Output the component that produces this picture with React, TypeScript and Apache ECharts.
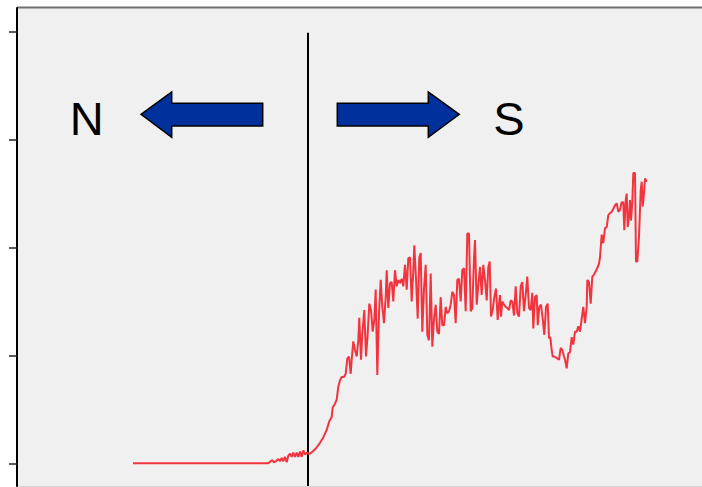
import React, { useEffect, useRef } from "react";
import * as echarts from "echarts";

// Position along transect (0 = boundary line) and measured values
const distance = [
  -175, -39.7, -37.3, -35.7, -34, -32, -29.7, -28, -26.3, -24.7, -23, -21.3, -19.7, -18, -16.3, -14.7,
  -13, -11.3, -9.7, -8, -6.3, -4.7, -3, -1.3, 0.3, 2, 4.7, 8, 12, 15.3, 18.7, 21.3, 23.7, 24.7, 26.3,
  28.7, 30.3, 32, 33.7, 36, 37.7, 39.3, 41, 42.7, 43.7, 45.3, 47, 48.7, 50.3, 51.3, 53, 54.3, 56.3, 58,
  59.7, 61.3, 63, 64.7, 66.3, 67.7, 69.3, 71, 72.7, 74.3, 76, 77.7, 78.7, 80.3, 82, 83.7, 85.3, 87,
  88.7, 90.3, 92, 93.7, 95.3, 97, 98.7, 100.3, 102, 103.7, 105.3, 106.3, 108, 109.7, 111.3, 112.7,
  114.3, 116, 117.7, 119.3, 121, 122.7, 124.3, 126, 127.7, 129.3, 131, 132.7, 134.3, 136, 137.7,
  139.3, 141, 142.7, 144.3, 146, 147.7, 149.3, 151, 152.7, 154.3, 156, 157.7, 159.3, 161, 162.7,
  164.3, 166, 167, 168.7, 170.3, 172, 173.7, 175.3, 177, 178.7, 180.3, 181.7, 183, 184.7, 186.3, 188,
  189.7, 191, 192, 193, 194.3, 196, 197.7, 199.3, 201, 202.7, 204.3, 206, 207.7, 209.3, 211, 212.7,
  214.3, 216, 217.7, 219.3, 221, 222.7, 224.3, 225.3, 227, 228.7, 229.7, 231.3, 233, 234.7, 236.3,
  238, 239.7, 241, 242.3, 243.7, 244.7, 246.3, 248, 249.7, 251, 252.7, 254.3, 256, 257, 258.7, 260.3,
  262, 263.7, 265.3, 267, 268.7, 270.3, 272, 273.7, 275.3, 277, 278.7, 279.3, 281, 282.7, 284.3, 286,
  287.7, 289.3, 291, 292, 293.7, 295.3, 297, 298.7, 300.3, 302, 303.7, 305.3, 307, 308.7, 310.3, 312,
  313.7, 315.3, 316.3, 317.7, 318.7, 319.7, 321, 322, 323, 324.3, 325.3, 327, 328, 329.3, 331, 332.7,
  333.7, 334.7, 336, 337, 338.7,
];
const value = [
  0, 0, 0.02, 0.03, 0.01, 0.02, 0.04, 0.02, 0.05, 0.02, 0.06, 0.01, 0.07, 0.09, 0.06, 0.1,
  0.06, 0.1, 0.06, 0.11, 0.06, 0.12, 0.08, 0.1, 0.09, 0.09, 0.11, 0.14, 0.19, 0.24, 0.31, 0.39, 0.43, 0.52, 0.54,
  0.59, 0.71, 0.77, 0.8, 0.8, 0.83, 0.97, 0.99, 0.83, 0.96, 1.13, 1.05, 0.99, 1.14, 1.35, 0.96, 1.2, 1.42, 0.99,
  1.2, 1.48, 1.42, 1.22, 1.33, 1.61, 0.82, 1.39, 1.7, 1.45, 1.3, 1.54, 1.79, 1.44, 1.67, 1.68, 1.5, 1.79,
  1.64, 1.7, 1.67, 1.71, 1.64, 1.84, 1.61, 1.9, 1.91, 1.5, 1.78, 2.02, 1.71, 1.34, 1.91, 1.95,
  1.22, 1.62, 1.84, 1.19, 1.14, 1.76, 1.08, 1.34, 1.47, 1.22, 1.2, 1.54, 1.28, 1.28, 1.45,
  1.39, 1.41, 1.47, 1.59, 1.56, 1.3, 1.7, 1.71, 1.5, 1.79, 1.81, 1.41, 2.13, 2.13, 1.41,
  1.44, 1.9, 2.07, 1.47, 1.65, 1.82, 1.56, 1.84, 1.7, 1.51, 1.82, 1.87, 1.36, 1.42, 1.54, 1.62,
  1.33, 1.48, 1.56, 1.36, 1.5, 1.47, 1.45, 1.44, 1.42, 1.51, 1.5, 1.37, 1.64, 1.39, 1.36, 1.64,
  1.68, 1.41, 1.56, 1.73, 1.44, 1.42, 1.58, 1.25, 1.54, 1.56, 1.28, 1.45, 1.47, 1.34, 1.19,
  1.45, 1.48, 1.16, 1.17, 1.05, 0.99, 0.99, 0.98, 0.97, 0.96, 1.07, 1.05, 0.99, 0.96, 0.88, 1.02,
  1.03, 1.17, 1.1, 1.22, 1.22, 1.27, 1.22, 1.34, 1.45, 1.3, 1.45, 1.7, 1.68, 1.48, 1.73, 1.75,
  1.78, 1.81, 1.85, 1.91, 2.12, 2.04, 2.18, 2.19, 2.3, 2.32, 2.33, 2.36, 2.39, 2.41, 2.33, 2.35,
  2.42, 2.42, 2.16, 2.44, 2.5, 2.19, 2.29, 2.44, 2.25, 2.42, 2.69, 2.69, 1.87, 1.87, 2.1, 2.53,
  2.61, 2.38, 2.5, 2.64, 2.61,
];

const yTicks = [0, 1, 2, 3, 4];
const boundary = { position: 0, top: 3.99 };
const labels = { north: "N", south: "S" };

export default function App() {
  const ref = useRef<HTMLDivElement>(null);
  useEffect(() => {
    if (!ref.current) return;
    const chart = echarts.init(ref.current, null, { renderer: "svg" });
    const yMin = -0.21;
    const yMax = 4.22;
    const lineData = distance.map((d, i) => [d, value[i]]);
    const arrowStyle = { fill: "#00309c", stroke: "#000", lineWidth: 1.5 };
    chart.setOption({
      animation: false,
      backgroundColor: "#ffffff",
      grid: {
        left: 17,
        right: 0,
        top: 8,
        bottom: 1,
        show: true,
        backgroundColor: "#f0f0f0",
        borderWidth: 0,
      },
      xAxis: {
        type: "value",
        min: -291,
        max: 394,
        show: false,
      },
      yAxis: {
        type: "value",
        min: yMin,
        max: yMax,
        axisLine: { show: true, onZero: false, lineStyle: { color: "#000", width: 2 } },
        axisTick: {
          show: true,
          length: 8,
          customValues: yTicks,
          lineStyle: { color: "#222", width: 1.5 },
        },
        axisLabel: { show: false },
        splitLine: { show: false },
      },
      graphic: [
        { type: "line", shape: { x1: 17, y1: 7.5, x2: 702, y2: 7.5 }, style: { stroke: "#707070", lineWidth: 2 } },
        { type: "line", shape: { x1: 17, y1: 486.5, x2: 702, y2: 486.5 }, style: { stroke: "#d4d4d4", lineWidth: 1 } },
        {
          type: "polygon",
          shape: {
            points: [
              [141, 114.3], [171.7, 92], [171.7, 103.3], [262.7, 103.3], [262.7, 126], [171.7, 126], [171.7, 137.3],
            ],
          },
          style: arrowStyle,
        },
        {
          type: "polygon",
          shape: {
            points: [
              [459.3, 114.3], [428.3, 92], [428.3, 103.3], [337.3, 103.3], [337.3, 126], [428.3, 126], [428.3, 137.3],
            ],
          },
          style: arrowStyle,
        },
        {
          type: "text",
          x: 86.7,
          y: 118,
          style: {
            text: labels.north,
            fontFamily: "Liberation Sans, Arial, sans-serif",
            fontSize: 47,
            fill: "#000",
            align: "center",
            verticalAlign: "middle",
          },
        },
        {
          type: "text",
          x: 509,
          y: 118,
          style: {
            text: labels.south,
            fontFamily: "Liberation Sans, Arial, sans-serif",
            fontSize: 47,
            fill: "#000",
            align: "center",
            verticalAlign: "middle",
          },
        },
      ],
      series: [
        {
          type: "line",
          data: [
            [boundary.position, yMin],
            [boundary.position, boundary.top],
          ],
          symbol: "none",
          lineStyle: { color: "#000", width: 2 },
          z: 3,
        },
        {
          type: "line",
          data: lineData,
          symbol: "none",
          lineStyle: { color: "#f2343f", width: 2 },
          z: 4,
        },
      ],
    });
    return () => chart.dispose();
  }, []);
  return (
    <div
      ref={ref}
      style={{ position: "absolute", left: 0, top: 0, width: 702, height: 487 }}
    />
  );
}
